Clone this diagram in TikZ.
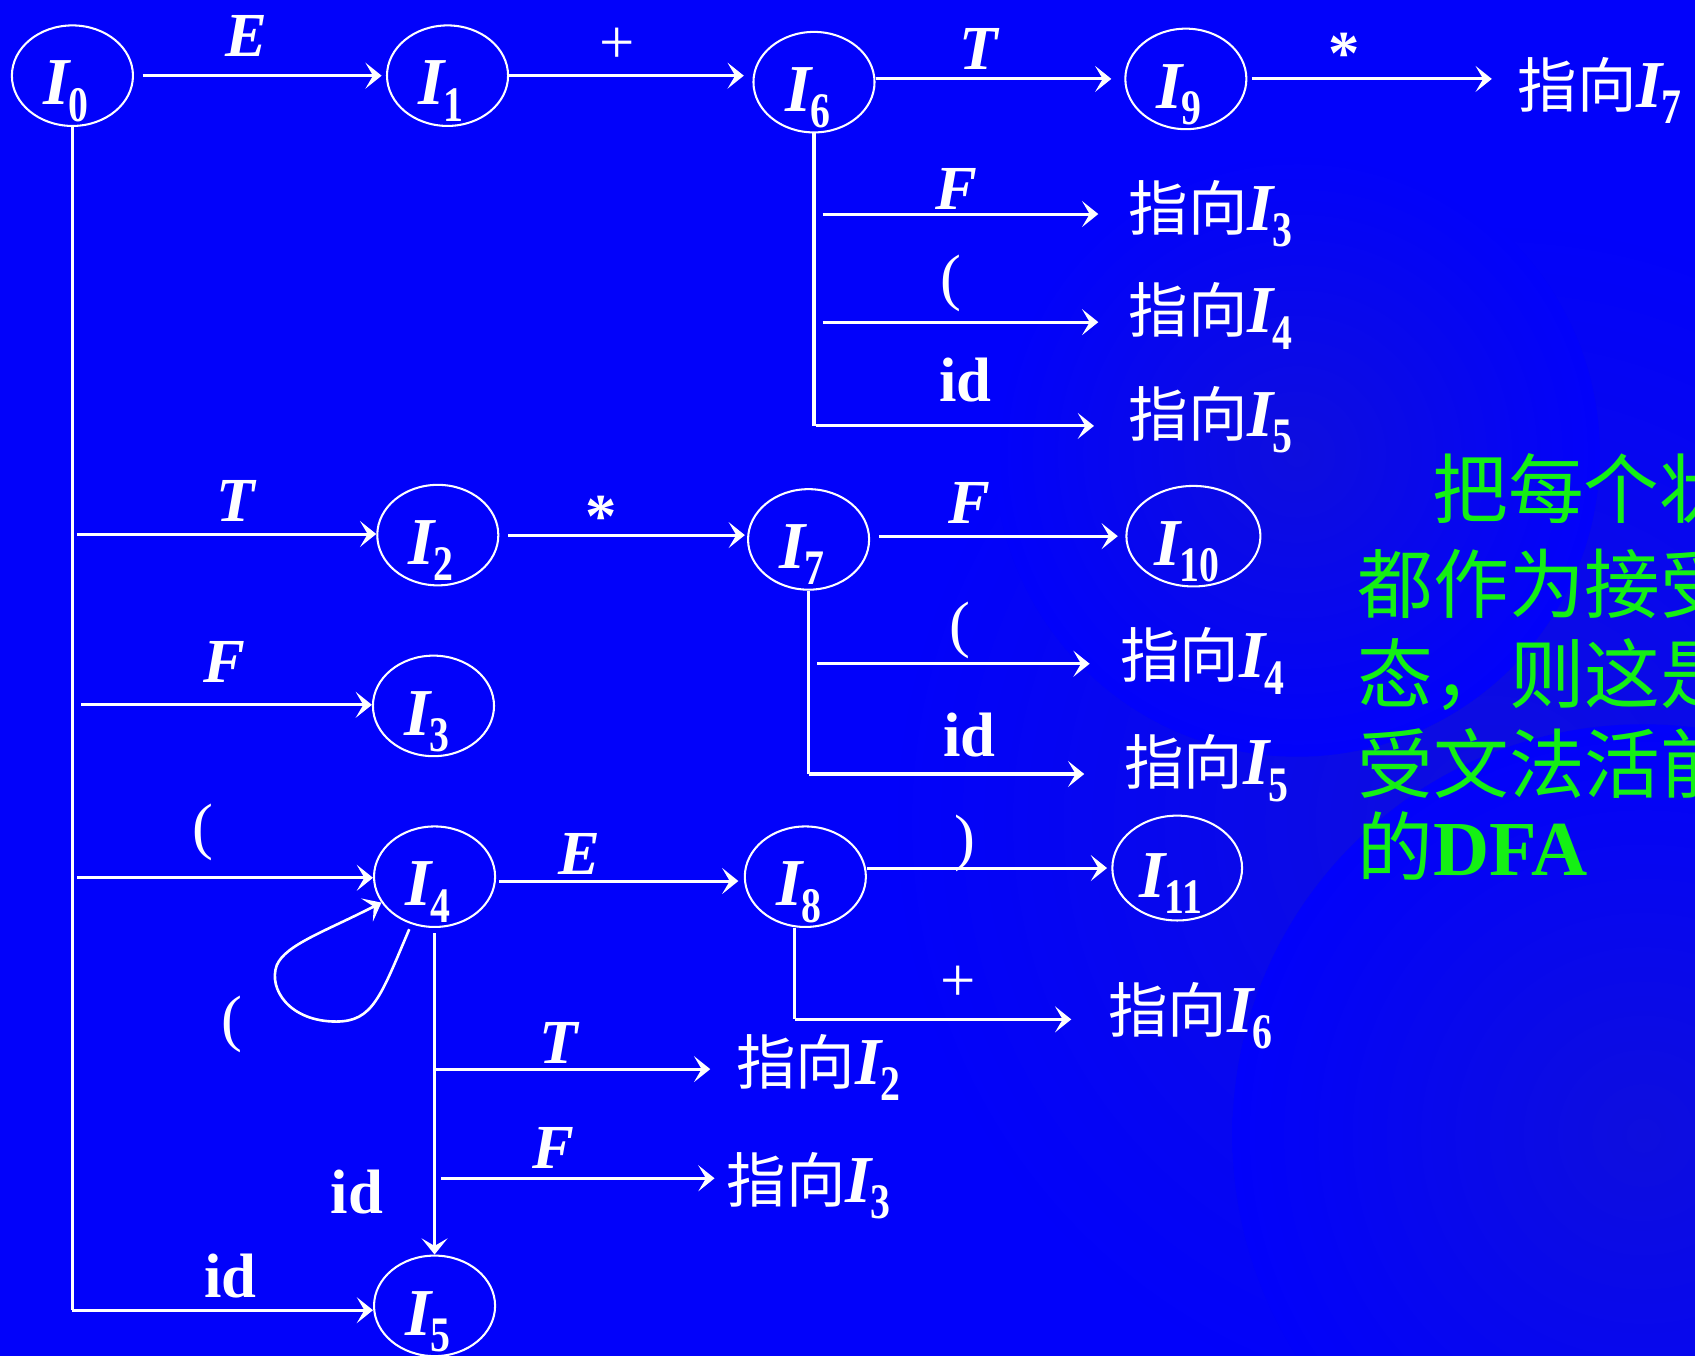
\documentclass[tikz,border=0pt]{standalone}
\usepackage{fontspec}
\usepackage{graphicx}
\setmainfont{Liberation Serif}
\newfontfamily\cjk{Noto Sans CJK SC}
\usetikzlibrary{arrows.meta,shapes.geometric}
\definecolor{bg}{RGB}{2,2,250}
\definecolor{bgdark}{RGB}{14,14,222}
\definecolor{grn}{RGB}{20,240,20}
\newcommand\Ist[1]{{\fontsize{62}{62}\selectfont\bfseries\itshape I}\kern-1pt\raisebox{-15pt}{\scalebox{0.8}[1]{\fontsize{46}{46}\selectfont\bfseries #1}}}
\newcommand\stl[1]{\raisebox{-27pt}[0pt][0pt]{\kern-12pt\Ist{#1}}}
\newcommand\ptr[1]{{\cjk\fontsize{55}{55}\selectfont 指向}\Ist{#1}}
\tikzset{
  st/.style={ellipse, draw=white, line width=1.9pt, minimum width=112pt, minimum height=93pt, inner sep=0pt, text=white},
  ln/.style={draw=white, line width=2.8pt},
  ar/.style={draw=white, line width=2.8pt, -{Stealth[length=15pt,width=24pt,inset=7pt]}},
  ptxt/.style={anchor=base west, inner sep=0pt, text=white},
  labi/.style={inner sep=0pt, text=white, font=\fontsize{58}{58}\selectfont\bfseries\itshape},
  labr/.style={inner sep=0pt, text=white, font=\fontsize{58}{58}\selectfont},
  labb/.style={inner sep=0pt, text=white, font=\fontsize{58}{58}\selectfont\bfseries},
  gtxt/.style={anchor=base west, inner sep=0pt, text=grn, font=\cjk\fontsize{70}{70}\selectfont}
}
\begin{document}
\begin{tikzpicture}[x=1pt,y=-1pt]
\useasboundingbox (0,0) rectangle (1568,1254);
\clip (0,0) rectangle (1568,1254);
\fill[bg] (0,0) rectangle (1568,1254);
\shade[inner color=bgdark, outer color=bg] (1380,760) circle (560);
\shade[inner color=bgdark, outer color=bg] (1520,1050) circle (380);
\shade[inner color=bgdark, outer color=bg] (1200,420) circle (280);

% states
\node[st] (I0) at (67,70) {\stl{0}};
\node[st] (I1) at (414,70) {\stl{1}};
\node[st] (I6) at (753,76) {\stl{6}};
\node[st] (I9) at (1097,73) {\stl{9}};
\node[st] (I2) at (405,495) {\stl{2}};
\node[st] (I7) at (748,499) {\stl{7}};
\node[st, minimum width=124pt] (I10) at (1104,496) {\stl{10}};
\node[st] (I3) at (401,653) {\stl{3}};
\node[st] (I4) at (402,811) {\stl{4}};
\node[st] (I8) at (745,811) {\stl{8}};
\node[st, minimum width=120pt, minimum height=97pt] (I11) at (1089,803) {\stl{11}};
\node[st] (I5) at (402,1208) {\stl{5}};

% pointer texts
\node[ptxt] (p9) at (1404,99) {\ptr{7}};
\node[ptxt] (p6a) at (1044,213) {\ptr{3}};
\node[ptxt] (p6b) at (1044,308) {\ptr{4}};
\node[ptxt] (p6c) at (1044,404) {\ptr{5}};
\node[ptxt] (p7a) at (1036,627) {\ptr{4}};
\node[ptxt] (p7b) at (1040,726) {\ptr{5}};
\node[ptxt] (p8) at (1025,955) {\ptr{6}};
\node[ptxt] (p4a) at (681,1003) {\ptr{2}};
\node[ptxt] (p4b) at (672,1112) {\ptr{3}};

% trunk coordinates
\coordinate (t0a) at (67,494);
\coordinate (t0b) at (67,652);
\coordinate (t0c) at (67,812);
\coordinate (t0d) at (67,1212);
\coordinate (t6a) at (753,198);
\coordinate (t6b) at (753,298);
\coordinate (t6c) at (753,394);
\coordinate (t7a) at (748,614);
\coordinate (t7b) at (748,716);
\coordinate (t8) at (735,943);
\coordinate (t4a) at (402,989);
\coordinate (t4b) at (402,1090);

% top row
\draw[ar, shorten <=8pt, shorten >=4pt] (I0) -- (I1);
\draw[ar, shorten >=8pt] (I1) -- (I1 -| I6.west);
\draw[ar, shorten >=12pt] (I6.east |- I9) -- (I9);
\draw[ar, shorten <=4pt, shorten >=24pt] (I9) -- (I9 -| p9.west);

% I6 trunk
\draw[ln] (I6) -- (t6c);
\draw[ar, shorten <=8pt, shorten >=28pt] (t6a) -- (t6a -| p6a.west);
\draw[ar, shorten <=8pt, shorten >=28pt] (t6b) -- (t6b -| p6b.west);
\draw[ar, shorten <=2pt, shorten >=32pt] (t6c) -- (t6c -| p6c.west);

% I0 trunk
\draw[ln] (I0) -- (t0d);
\draw[ar, shorten <=4pt] (t0a) -- (t0a -| I2.west);
\draw[ar, shorten <=8pt] (t0b) -- (t0b -| I3.west);
\draw[ar, shorten <=4pt] (t0c) -- (t0c -| I4.west);
\draw[ar] (t0d) -- (t0d -| I5.west);

% I2, I7
\draw[ar, shorten <=8pt, shorten >=2pt] (I2) -- (I2 -| I7.west);
\draw[ar, shorten <=8pt, shorten >=7pt] (I7.east |- I10) -- (I10);
\draw[ln] (I7) -- (t7b);
\draw[ar, shorten <=8pt, shorten >=28pt] (t7a) -- (t7a -| p7a.west);
\draw[ar, shorten >=37pt] (t7b) -- (t7b -| p7b.west);

% I4, I8
\draw[ar, shorten <=3pt, shorten >=5pt] ([yshift=-4pt]I4.east) -- ([yshift=-4pt]I8.west);
\draw[ar, shorten >=4pt] (I11.west -| I8.east) -- (I11.west);
\draw[ln] (I8.south -| t8) -- (t8);
\draw[ar, shorten >=34pt] (t8) -- (t8 -| p8.west);
\draw[ar, shorten <=5pt] (I4) -- (I5);
\draw[ar, shorten >=24pt] (t4a) -- (t4a -| p4a.west);
\draw[ar, shorten <=6pt, shorten >=11pt] (t4b) -- (t4b -| p4b.west);
\draw[ar, line width=2.4pt, shorten <=5pt] (I4.244) .. controls (352,922) and (345,945) .. (311,945)
   .. controls (268,945) and (248,915) .. (256,893)
   .. controls (264,874) and (300,862) .. (I4.206);

% edge labels
\node[labi] (lE1) at (228,33) {E};
\node[labr] (lp1) at (571,42) {+};
\node[labi] (lT1) at (905,45) {T};
\node[labb] (ls1) at (1243,50) {*};
\node[labi] (lF1) at (885,175) {F};
\node[labr] (lo1) at (880,262) {(};
\node[labb] (li1) at (893,352) {id};
\node[labi] (lT2) at (218,463) {T};
\node[labb] (ls2) at (556,478) {*};
\node[labi] (lF2) at (897,465) {F};
\node[labi] (lF3) at (208,612) {F};
\node[labr] (lo2) at (888,583) {(};
\node[labb] (li2) at (897,680) {id};
\node[labr] (lo3) at (188,770) {(};
\node[labi] (lE2) at (536,790) {E};
\node[labr] (lc1) at (893,780) {)};
\node[labr] (lp2) at (886,910) {+};
\node[labr] (lo4) at (215,948) {(};
\node[labi] (lT3) at (517,965) {T};
\node[labi] (lF4) at (512,1062) {F};
\node[labb] (li3) at (330,1103) {id};
\node[labb] (li4) at (213,1180) {id};

% green text
\node[gtxt] (g1) at (1325,479) {把每个状};
\node[gtxt] (g2) at (1256,567) {都作为接受};
\node[gtxt] (g3) at (1256,650) {态，则这是};
\node[gtxt] (g4) at (1256,733) {受文法活前};
\node[gtxt] (g5) at (1256,810) {的{\rmfamily\bfseries\fontsize{72}{72}\selectfont DFA}};
\end{tikzpicture}
\end{document}
